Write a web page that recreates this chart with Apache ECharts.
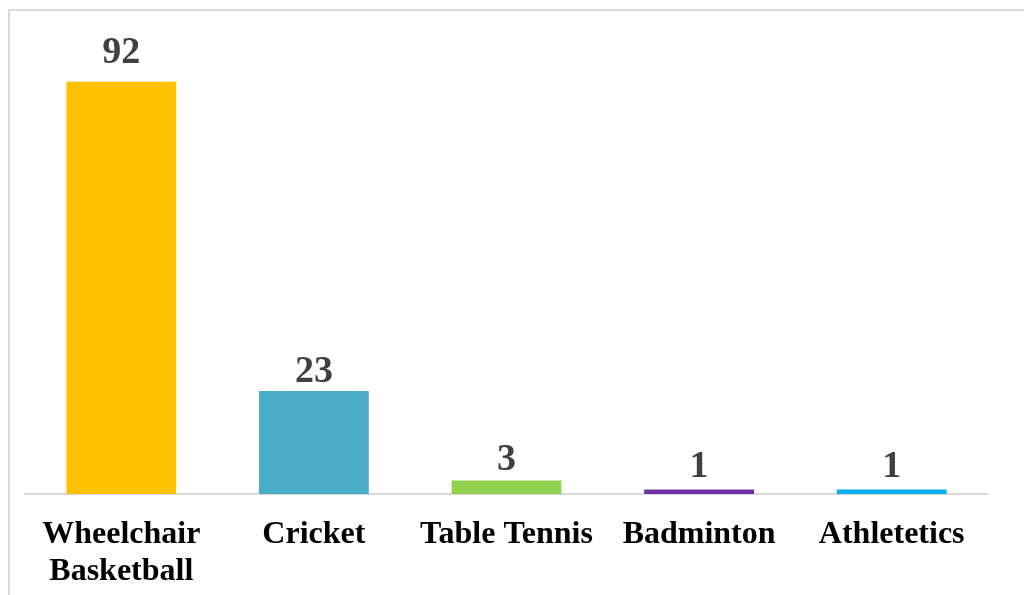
<!DOCTYPE html>
<html>
<head>
<meta charset="utf-8">
<script src="https://cdn.jsdelivr.net/npm/echarts@6/dist/echarts.min.js"></script>
<style>
  html, body { margin: 0; padding: 0; background: #fff; }
  #chart { width: 1024px; height: 595px; }
</style>
</head>
<body>
<div id="chart"></div>
<script>
// Players per sport
const categories = ['Wheelchair\nBasketball', 'Cricket', 'Table Tennis', 'Badminton', 'Athletetics'];
const values = [92, 23, 3, 1, 1];
const barColors = ['#FFC000', '#4BACC6', '#92D050', '#7030A0', '#00B0F0'];
// space between each bar top and its value label
const labelGap = [10, 0, 1, 3, 3];

const chart = echarts.init(document.getElementById('chart'), null, { renderer: 'canvas' });
chart.setOption({
  animation: false,
  backgroundColor: '#fff',
  graphic: [{
    type: 'rect',
    shape: { x: 9, y: 10, width: 1040, height: 620 },
    style: { fill: 'none', stroke: '#d9d9d9', lineWidth: 2 },
    silent: true
  }],
  grid: { left: 25, right: 36, top: 46, bottom: 101 },
  xAxis: {
    type: 'category',
    data: categories,
    axisLine: { lineStyle: { color: '#d9d9d9', width: 2 } },
    axisTick: { show: false },
    axisLabel: {
      interval: 0,
      margin: 22,
      color: '#000',
      fontFamily: '"Liberation Serif", "Times New Roman", serif',
      fontWeight: 'bold',
      fontSize: 32,
      lineHeight: 37
    }
  },
  yAxis: {
    type: 'value',
    min: 0,
    max: 100,
    show: false,
    splitLine: { show: false }
  },
  series: [{
    type: 'bar',
    barWidth: '57%',
    data: values.map((v, i) => ({
      value: v,
      itemStyle: { color: barColors[i] },
      label: { distance: labelGap[i] }
    })),
    label: {
      show: true,
      position: 'top',
      color: '#404040',
      fontFamily: '"Liberation Serif", "Times New Roman", serif',
      fontWeight: 'bold',
      fontSize: 38
    }
  }]
});
</script>
</body>
</html>
